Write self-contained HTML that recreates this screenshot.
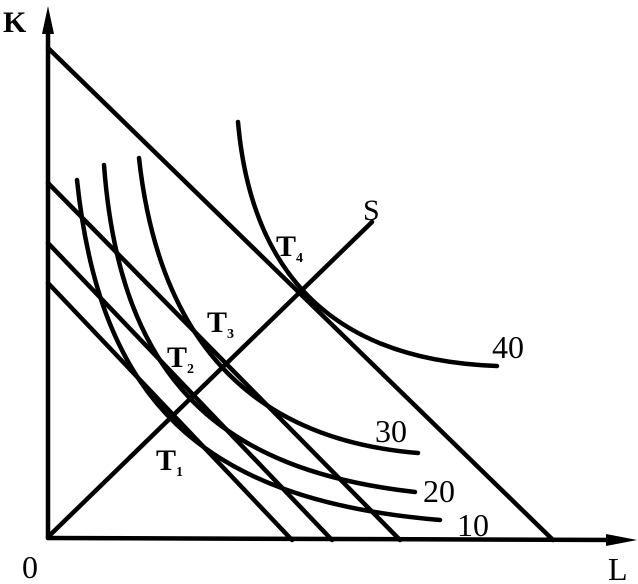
<!DOCTYPE html>
<html><head><style>body{margin:0;background:#fff}svg{display:block}text{font-family:"Liberation Serif",serif;fill:#000}</style></head>
<body>
<svg width="638" height="584" viewBox="0 0 638 584">
<g stroke="#000" stroke-width="4.5" fill="none" stroke-linecap="round">
<line x1="48" y1="538" x2="48" y2="20"/>
<line x1="48" y1="538" x2="622" y2="540"/>
<line x1="48" y1="48" x2="553" y2="540"/>
<line x1="48" y1="183" x2="400" y2="540"/>
<line x1="48" y1="243" x2="332" y2="540"/>
<line x1="48" y1="283" x2="292" y2="540"/>
<line x1="48" y1="537" x2="372" y2="222"/>
<path d="M77,180 C100,400 200,500 440,520"/>
<path d="M104,165 C120,380 220,470 415,492"/>
<path d="M139,158 C160,350 260,440 418,453"/>
<path d="M238,122 C250,260 320,360 497,366"/>
</g>
<polygon points="48,6 42,34 54,34" fill="#000"/>
<polygon points="637,540 606,534 606,546" fill="#000"/>
<text x="3" y="32" font-size="30" font-weight="bold">K</text>
<text x="22" y="578" font-size="32">0</text>
<text x="608" y="580" font-size="32">L</text>
<text x="363" y="220" font-size="30">S</text>
<text x="276" y="256" font-size="30" font-weight="bold">T<tspan font-size="14" dy="6">4</tspan></text>
<text x="207" y="332" font-size="30" font-weight="bold">T<tspan font-size="14" dy="6">3</tspan></text>
<text x="167" y="367" font-size="30" font-weight="bold">T<tspan font-size="14" dy="6">2</tspan></text>
<text x="156" y="470" font-size="30" font-weight="bold">T<tspan font-size="14" dy="6">1</tspan></text>
<text x="492" y="358" font-size="32">40</text>
<text x="375" y="442" font-size="32">30</text>
<text x="423" y="502" font-size="32">20</text>
<text x="457" y="536" font-size="32">10</text>
</svg>
</body></html>
